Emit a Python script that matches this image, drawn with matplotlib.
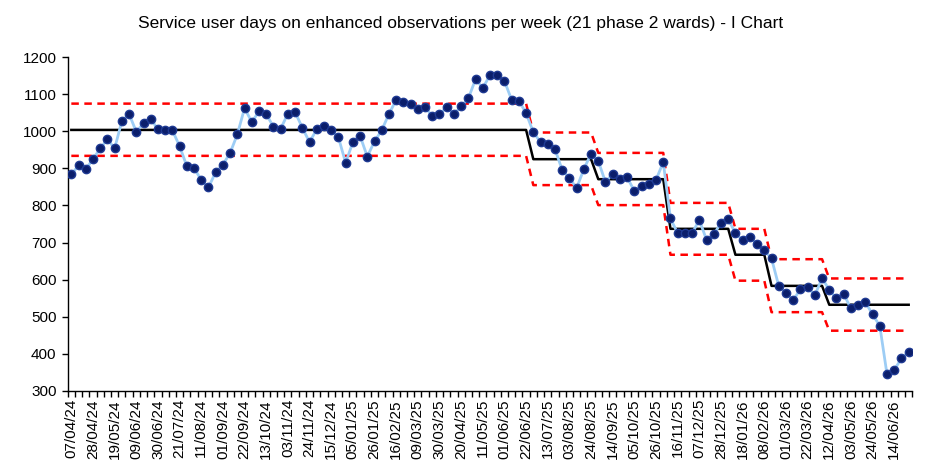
import matplotlib
matplotlib.use("Agg")
import matplotlib.pyplot as plt
import numpy as np
import datetime as dt

plt.rcParams['font.family'] = ['Liberation Sans', 'DejaVu Sans']

start = dt.date(2024, 4, 7)
n_weeks = 117
dates = [start + dt.timedelta(weeks=i) for i in range(n_weeks)]
date_labels = [d.strftime("%d/%m/%y") for d in dates]

values = [
    884, 908, 898, 925, 954, 979, 954, 1028, 1047, 999,
    1022, 1033, 1006, 1003, 1003, 960, 906, 901, 869, 849,
    890, 910, 942, 992, 1063, 1025, 1054, 1047, 1012, 1007,
    1048, 1052, 1010, 971, 1006, 1014, 1003, 984, 915, 971,
    988, 932, 973, 1003, 1047, 1085, 1079, 1074, 1060, 1065,
    1042, 1047, 1065, 1047, 1068, 1089, 1141, 1117, 1152, 1152,
    1136, 1085, 1083, 1049, 998, 971, 966, 952, 896, 874,
    847, 898, 940, 920, 863, 886, 871, 876, 839, 853,
    857, 869, 917, 765, 725, 725, 725, 761, 707, 722,
    753, 763, 725, 706, 714, 695, 679, 657, 583, 565,
    544, 574, 580, 557, 604, 572, 549, 561, 522, 532,
    539, 506, 475, 344, 356, 387, 404,
]

# phase segments: (number of weeks, mean, UCL, LCL)
seg_lengths = [64, 9, 10, 9, 5, 8, 12]
seg_means = [1004, 925, 871, 737, 667, 583, 532]
seg_ucl = [1075, 997, 942, 807, 737, 655, 603]
seg_lcl = [934, 855, 801, 667, 597, 512, 462]

mean_line = np.repeat(seg_means, seg_lengths)
ucl_line = np.repeat(seg_ucl, seg_lengths)
lcl_line = np.repeat(seg_lcl, seg_lengths)

x = np.arange(n_weeks)

fig = plt.figure(figsize=(9.29, 4.66), dpi=100)
ax = fig.add_axes([0.0729, 0.1616, 0.9091, 0.7154])

ax.plot(x, ucl_line, color='#FF0000', lw=1.8, ls=(0, (3, 2.2)), zorder=2)
ax.plot(x, lcl_line, color='#FF0000', lw=1.8, ls=(0, (3, 2.2)), zorder=2)
ax.plot(x, mean_line, color='black', lw=1.8, zorder=2)
ax.plot(x, values, color='#9DCDF5', lw=2, zorder=3,
        marker='o', markersize=6, markerfacecolor='#0B1E6B',
        markeredgecolor='#1F3A93', markeredgewidth=1)

ax.set_xlim(-0.5, n_weeks - 0.5)
ax.set_ylim(300, 1200)
ax.set_yticks(np.arange(300, 1201, 100))
ax.tick_params(axis='y', labelsize=11, length=4, width=1, direction='out', pad=4)

ax.set_xticks(x[::3])
ax.set_xticklabels(date_labels[::3], rotation=90, fontsize=11)
ax.set_xticks(np.arange(-0.5, n_weeks, 1), minor=True)
ax.tick_params(axis='x', which='major', length=0, pad=6)
ax.tick_params(axis='x', which='minor', length=4, width=1, direction='out')

for s in ['top', 'right']:
    ax.spines[s].set_visible(False)
for s in ['left', 'bottom']:
    ax.spines[s].set_linewidth(1)

fig.text(0.4955, 0.95, "Service user days on enhanced observations per week (21 phase 2 wards) - I Chart",
         ha='center', va='center', fontsize=12.5)

fig.savefig("out.png", dpi=100)
